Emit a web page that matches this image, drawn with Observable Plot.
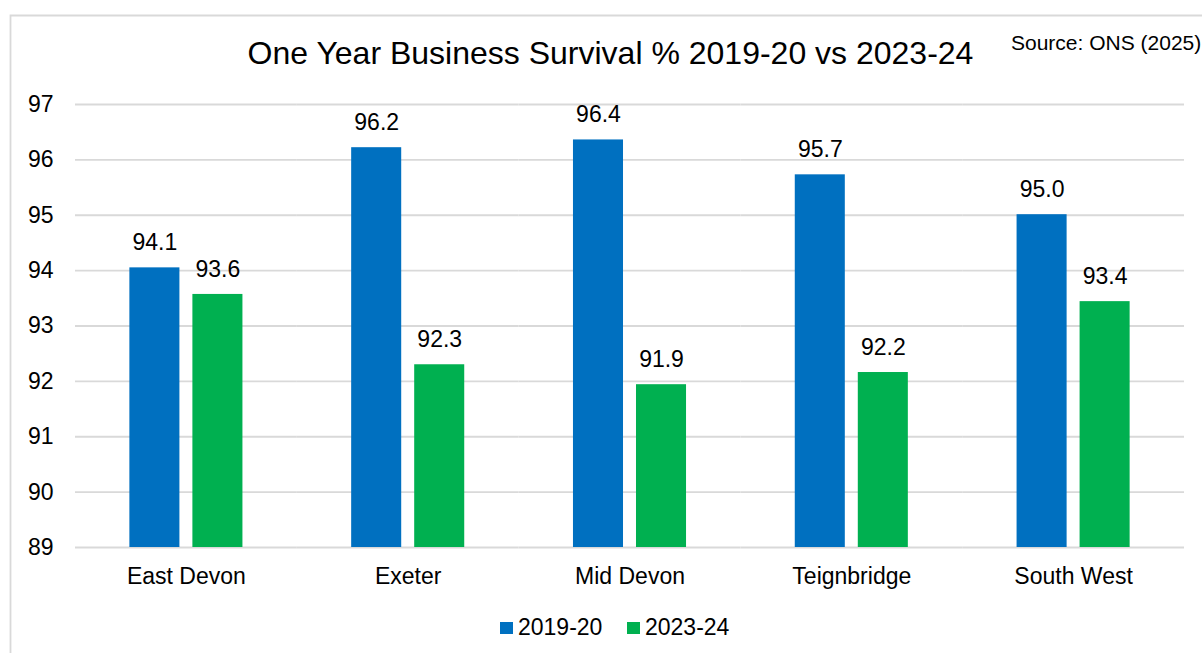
<!DOCTYPE html>
<html><head><meta charset="utf-8">
<script src="https://cdn.jsdelivr.net/npm/d3@7"></script>
<script src="https://cdn.jsdelivr.net/npm/@observablehq/plot@0.6"></script>
<style>body{margin:0;background:#fff;}</style>
</head><body><div id="chart"></div>
<script>
const categories = ["East Devon","Exeter","Mid Devon","Teignbridge","South West"];
const series = ["2019-20","2023-24"];
const values2019 = [94.05, 96.22, 96.36, 95.73, 95.01];
const values2023 = [93.57, 92.30, 91.94, 92.16, 93.44];
const labels2019 = ["94.1","96.2","96.4","95.7","95.0"];
const labels2023 = ["93.6","92.3","91.9","92.2","93.4"];
const yTicks = [89,90,91,92,93,94,95,96,97];
const colors = ["#0070C0","#00B050"];
const titleText = "One Year Business Survival % 2019-20 vs 2023-24";
const sourceText = "Source: ONS (2025)";

const data = categories.flatMap((c,i)=>[
  {category:c, series:series[0], value:values2019[i], label:labels2019[i]},
  {category:c, series:series[1], value:values2023[i], label:labels2023[i]}
]);

const FONT = '"Liberation Sans", Arial, sans-serif';
const chart = Plot.plot({
  width:1202, height:653,
  marginTop:104, marginBottom:106, marginLeft:75, marginRight:18,
  style:{fontFamily:FONT, fontSize:"23px", color:"#000", background:"#fff", overflow:"visible"},
  fx:{domain:categories, padding:0, round:false, label:null},
  x:{domain:series, paddingInner:0.206, paddingOuter:0.8627, round:false, axis:null},
  y:{domain:[89,97], label:null},
  color:{domain:series, range:colors},
  marks:[
    Plot.ruleY(yTicks,{stroke:"#d9d9d9", strokeWidth:1.8}),
    Plot.axisY(yTicks,{tickSize:0, tickPadding:22, fontSize:23, fill:"#000", label:null, tickFormat:"d"}),
    Plot.axisFx({anchor:"bottom", tickSize:0, tickPadding:20, fontSize:23, fill:"#000", label:null}),
    Plot.barY(data,{fx:"category", x:"series", y1:89, y2:"value", fill:"series"}),
    Plot.text(data,{fx:"category", x:"series", y:"value", text:"label", dy:-25, fontSize:23, fill:"#000"})
  ]
});
document.getElementById("chart").appendChild(chart);

const svg = d3.select(chart);
svg.append("path").attr("d","M10.5,653V15.5H1202").attr("fill","none").attr("stroke","#d9d9d9").attr("stroke-width",1.8);
svg.append("text").attr("x",610.5).attr("y",64).attr("text-anchor","middle")
  .attr("font-family",FONT).attr("font-size",32).attr("fill","#000").text(titleText);
svg.append("text").attr("x",1011).attr("y",50).attr("text-anchor","start")
  .attr("font-family",FONT).attr("font-size",21).attr("fill","#000").text(sourceText);
const legendX = [500, 627];
series.forEach((s,i)=>{
  svg.append("rect").attr("x",legendX[i]).attr("y",622).attr("width",13).attr("height",12).attr("fill",colors[i]);
  svg.append("text").attr("x",legendX[i]+18).attr("y",635).attr("text-anchor","start")
    .attr("font-family",FONT).attr("font-size",23).attr("fill","#000").text(s);
});
</script>
</body></html>
